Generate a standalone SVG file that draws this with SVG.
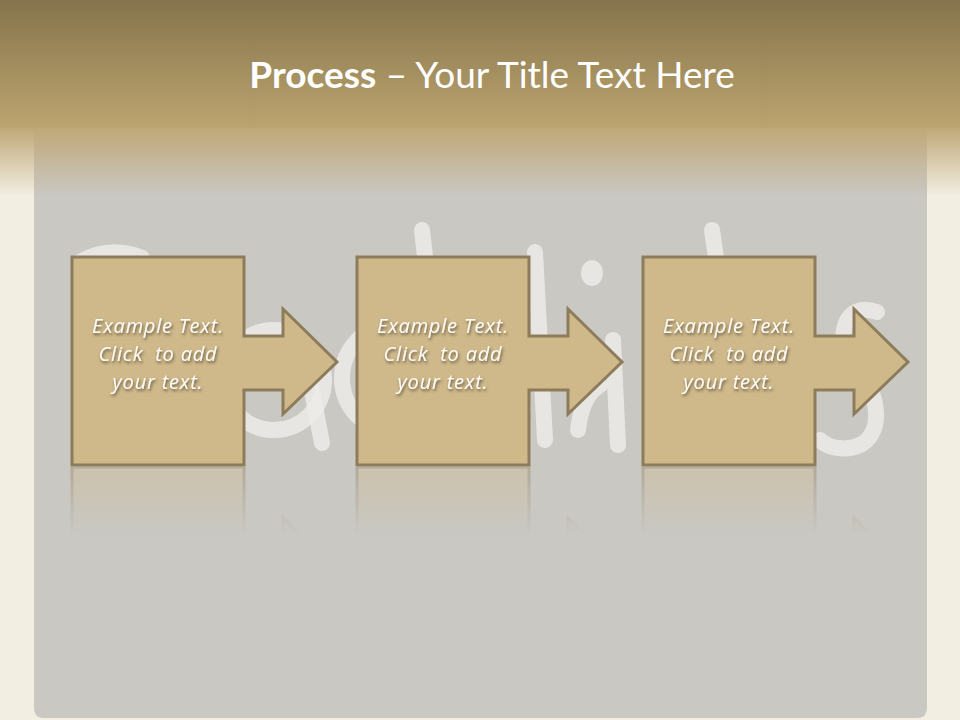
<svg xmlns="http://www.w3.org/2000/svg" width="960" height="720" viewBox="0 0 960 720">
<defs>
<style>
.shape{fill:#cfb98b;stroke:#8d7c5b;stroke-width:3;stroke-linejoin:miter}
.lbl{font-family:"Open Sans",Lato,sans-serif;font-style:italic;font-size:20px;letter-spacing:0.8px;fill:#fdfbf5;text-anchor:middle}
.doodle{fill:none;stroke:#ecebe8;stroke-width:16;stroke-linecap:round;opacity:0.85}
.title{font-family:Lato,"Open Sans",sans-serif;font-size:37px;fill:#ffffff;text-anchor:middle}
</style>
<linearGradient id="hdr" x1="0" y1="0" x2="0" y2="1">
<stop offset="0" stop-color="#85744c"/>
<stop offset="1" stop-color="#bca46f"/>
</linearGradient>
<linearGradient id="fade" x1="0" y1="0" x2="0" y2="1">
<stop offset="0" stop-color="#c0a878" stop-opacity="1"/>
<stop offset="1" stop-color="#c0a878" stop-opacity="0"/>
</linearGradient>
<linearGradient id="mfade" gradientUnits="userSpaceOnUse" x1="0" y1="467" x2="0" y2="535">
<stop offset="0" stop-color="#fff" stop-opacity="0.4"/>
<stop offset="1" stop-color="#fff" stop-opacity="0"/>
</linearGradient>
<mask id="rmask" maskUnits="userSpaceOnUse" x="0" y="466" width="960" height="100">
<rect x="0" y="467" width="960" height="90" fill="url(#mfade)"/>
</mask>
<filter id="tsh" x="-20%" y="-40%" width="140%" height="180%">
<feDropShadow dx="1" dy="2" stdDeviation="1.5" flood-color="#3a3020" flood-opacity="0.75"/>
</filter>
<path id="step" d="M72 257H244V336H283V309L337 362L283 414V390H244V465H72Z"/>
</defs>

<rect x="0" y="0" width="960" height="720" fill="#f3eee2"/>
<path d="M34 128H927V708Q927 718 917 718H44Q34 718 34 708Z" fill="#cac8c3"/>
<rect x="0" y="0" width="960" height="128" fill="url(#hdr)"/>
<rect x="0" y="128" width="960" height="68" fill="url(#fade)"/>

<g id="background-doodle">
<path class="doodle" d="M80 262Q110 245 142 258"/>
<circle class="doodle" cx="274" cy="380" r="50"/>
<path class="doodle" d="M304 350L322 443"/>
<circle class="doodle" cx="396" cy="378" r="54"/>
<path class="doodle" d="M422 230L430 300"/>
<path class="doodle" d="M535 252L545 440"/>
<ellipse cx="592" cy="273" rx="11" ry="13" fill="#ecebe8" opacity="0.85"/>
<path class="doodle" d="M613 340L618 445"/>
<path class="doodle" d="M578 430Q582 395 600 385"/>
<path class="doodle" d="M712 230L722 300"/>
<path class="doodle" d="M877 312C842 300 836 340 852 362C880 392 884 430 862 444C846 452 828 448 820 440"/>
</g>

<g id="reflections" mask="url(#rmask)">
<use href="#step" class="shape" transform="matrix(1 0 0 -1 0 932)"/>
<use href="#step" class="shape" transform="matrix(1 0 0 -1 285 932)"/>
<use href="#step" class="shape" transform="matrix(1 0 0 -1 571 932)"/>
</g>

<g id="title">
<text class="title" x="492" y="88"><tspan font-weight="bold">Process</tspan> – Your Title Text Here</text>
</g>

<g id="connectors"></g>

<g id="step1">
<use href="#step" class="shape"/>
<g filter="url(#tsh)">
<text class="lbl" x="158" y="333">Example Text.</text>
<text class="lbl" x="158" y="361" xml:space="preserve">Click  to add</text>
<text class="lbl" x="158" y="389">your text.</text>
</g>
</g>

<g id="step2" transform="translate(285 0)">
<use href="#step" class="shape"/>
<g filter="url(#tsh)">
<text class="lbl" x="158" y="333">Example Text.</text>
<text class="lbl" x="158" y="361" xml:space="preserve">Click  to add</text>
<text class="lbl" x="158" y="389">your text.</text>
</g>
</g>

<g id="step3" transform="translate(571 0)">
<use href="#step" class="shape"/>
<g filter="url(#tsh)">
<text class="lbl" x="158" y="333">Example Text.</text>
<text class="lbl" x="158" y="361" xml:space="preserve">Click  to add</text>
<text class="lbl" x="158" y="389">your text.</text>
</g>
</g>
</svg>
